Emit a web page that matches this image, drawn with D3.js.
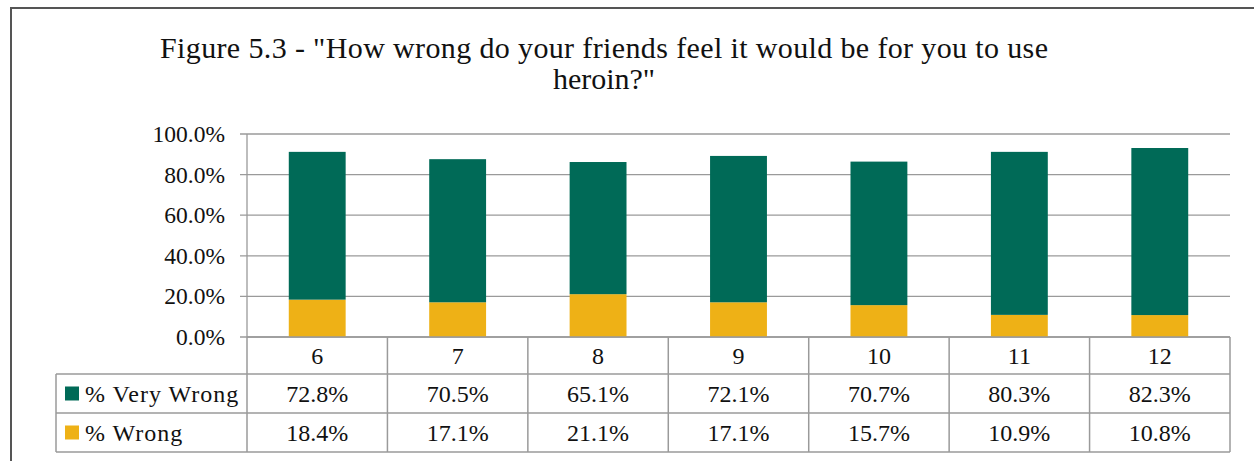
<!DOCTYPE html>
<html>
<head>
<meta charset="utf-8">
<script src="https://cdn.jsdelivr.net/npm/d3@7"></script>
<style>
  body { margin: 0; background: #fff; }
  text { font-family: "Liberation Serif", "DejaVu Serif", serif; fill: #111; }
</style>
</head>
<body>
<svg id="mainsvg" width="1254" height="461"></svg>
<script>
const grades = ['6', '7', '8', '9', '10', '11', '12']
const veryWrong = [72.8, 70.5, 65.1, 72.1, 70.7, 80.3, 82.3]
const wrong = [18.4, 17.1, 21.1, 17.1, 15.7, 10.9, 10.8]
const seriesNames = ['% Very Wrong', '% Wrong']
const yTicks = [0, 20, 40, 60, 80, 100]

const green = '#006a57'
const yellow = '#eeb116'
const gridColor = '#9a9a9a'

const svg = d3.select('#mainsvg')

// outer frame
svg.append('rect')
  .attr('x', 11).attr('y', 8)
  .attr('width', 1260).attr('height', 470)
  .attr('fill', 'none')
  .attr('stroke', '#555').attr('stroke-width', 2)

// title
const title = svg.append('text')
  .attr('text-anchor', 'middle')
  .attr('font-size', 30)
title.append('tspan').attr('x', 604).attr('y', 58)
  .attr('textLength', 888).attr('lengthAdjust', 'spacing')
  .text('Figure 5.3 - "How wrong do your friends feel it would be for you to use')
title.append('tspan').attr('x', 604).attr('y', 89)
  .text('heroin?"')

const plotLeft = 247, plotRight = 1230, plotTop = 134, plotBottom = 337

const x = d3.scaleBand().domain(grades).range([plotLeft, plotRight]).paddingInner(0).paddingOuter(0)
const y = d3.scaleLinear().domain([0, 100]).range([plotBottom, plotTop])

// gridlines + ticks
svg.append('g')
  .selectAll('line').data(yTicks).join('line')
  .attr('x1', plotLeft - 7).attr('x2', plotRight)
  .attr('y1', d => y(d)).attr('y2', d => y(d))
  .attr('stroke', gridColor).attr('stroke-width', 1.3)

svg.append('g')
  .selectAll('text').data(yTicks).join('text')
  .attr('x', 225).attr('y', d => y(d) + 8)
  .attr('text-anchor', 'end')
  .attr('font-size', 23.5)
  .text(d => d.toFixed(1) + '%')

// y axis line
svg.append('line')
  .attr('x1', plotLeft).attr('x2', plotLeft)
  .attr('y1', plotTop).attr('y2', plotBottom)
  .attr('stroke', gridColor).attr('stroke-width', 1.3)

// stacked bars
const barW = x.bandwidth() * 0.405
const bars = svg.append('g')
grades.forEach((g, i) => {
  const cx = x(g) + x.bandwidth() / 2
  bars.append('rect')
    .attr('x', cx - barW / 2).attr('width', barW)
    .attr('y', y(wrong[i])).attr('height', y(0) - y(wrong[i]))
    .attr('fill', yellow)
  bars.append('rect')
    .attr('x', cx - barW / 2).attr('width', barW)
    .attr('y', y(wrong[i] + veryWrong[i])).attr('height', y(wrong[i]) - y(wrong[i] + veryWrong[i]))
    .attr('fill', green)
})

// data table
const tableLeft = 56
const rowY = [plotBottom, 374, 413, 452]
const tbl = svg.append('g')
const lineAttrs = sel => sel.attr('stroke', gridColor).attr('stroke-width', 1.5)

// horizontal lines
tbl.append('line').attr('x1', plotLeft).attr('x2', plotRight).attr('y1', rowY[0]).attr('y2', rowY[0]).call(lineAttrs)
rowY.slice(1).forEach(yy => {
  tbl.append('line').attr('x1', tableLeft).attr('x2', plotRight).attr('y1', yy).attr('y2', yy).call(lineAttrs)
})
// vertical lines
grades.forEach(g => {
  tbl.append('line').attr('x1', x(g)).attr('x2', x(g)).attr('y1', rowY[0]).attr('y2', rowY[3]).call(lineAttrs)
})
tbl.append('line').attr('x1', plotRight).attr('x2', plotRight).attr('y1', rowY[0]).attr('y2', rowY[3]).call(lineAttrs)
tbl.append('line').attr('x1', tableLeft).attr('x2', tableLeft).attr('y1', rowY[1]).attr('y2', rowY[3]).call(lineAttrs)

// category labels
tbl.selectAll('text.cat').data(grades).join('text')
  .attr('class', 'cat')
  .attr('x', d => x(d) + x.bandwidth() / 2)
  .attr('y', (rowY[0] + rowY[1]) / 2 + 8)
  .attr('text-anchor', 'middle')
  .attr('font-size', 24)
  .text(d => d)

const rows = [veryWrong, wrong]
const colors = [green, yellow]
rows.forEach((vals, r) => {
  const cy = (rowY[r + 1] + rowY[r + 2]) / 2
  tbl.append('rect')
    .attr('x', 65).attr('y', cy - 7)
    .attr('width', 14).attr('height', 14)
    .attr('fill', colors[r])
  tbl.append('text')
    .attr('x', 85).attr('y', cy + 8)
    .attr('font-size', 24)
    .attr('letter-spacing', 1)
    .text(seriesNames[r])
  tbl.selectAll(null).data(vals).join('text')
    .attr('x', (d, i) => x(grades[i]) + x.bandwidth() / 2)
    .attr('y', cy + 8)
    .attr('text-anchor', 'middle')
    .attr('font-size', 24)
    .text(d => d.toFixed(1) + '%')
})
</script>
</body>
</html>
